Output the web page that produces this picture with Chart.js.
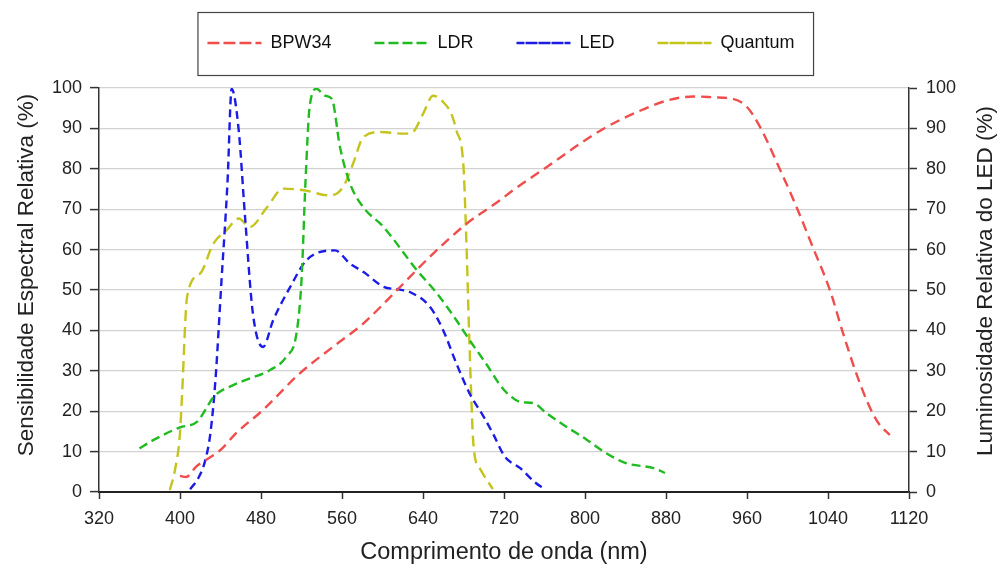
<!DOCTYPE html>
<html>
<head>
<meta charset="utf-8">
<script src="https://cdn.jsdelivr.net/npm/chart.js@4.4.1/dist/chart.umd.min.js"></script>
<style>
  html, body { margin: 0; padding: 0; background: #fff; }
  #wrap { width: 1002px; height: 570px; }
</style>
</head>
<body>
<div id="wrap"><canvas id="chart" width="1002" height="570"></canvas></div>
<script>
// BPW34 - sensibilidade espectral (eixo esquerdo)
const bpwNm  = [400, 406, 416, 426, 440, 456, 482, 518, 551, 581, 614, 650, 683, 716, 729, 762, 795, 821, 851, 881, 907, 927, 946, 960, 973, 993, 1009, 1025, 1042, 1055, 1068, 1081, 1090, 1101];
const bpwVal = [4, 3.7, 6.3, 8, 10.4, 14.7, 20.3, 29.3, 35.9, 41.7, 49.9, 59, 66.4, 72.2, 74.7, 80.4, 86.2, 90.3, 94, 96.9, 97.9, 97.7, 97.3, 95.3, 90.3, 79.6, 70.5, 60.6, 49.9, 39.2, 29.3, 21.1, 17, 14.1];

// LDR
const ldrNm  = [360, 374, 400, 417, 425, 433, 453, 469, 489, 505, 515, 520, 524, 528, 535, 543, 550, 558, 568, 581, 601, 634, 654, 673, 686, 703, 716, 723, 736, 749, 762, 782, 802, 821, 841, 868, 879];
const ldrVal = [10.8, 12.9, 16, 17.4, 20.3, 23.5, 26.5, 28.1, 30.2, 33.5, 39.2, 52.4, 77.1, 95.3, 99.8, 98.1, 97.3, 85.4, 76.3, 70.5, 65.6, 54.9, 49.1, 42.5, 37.6, 31.5, 26.5, 24.5, 22.3, 22, 19.5, 16.1, 12.9, 9.6, 7.1, 5.9, 4.7];

// LED - luminosidade relativa (eixo direito)
const ledNm  = [410, 418, 425, 430, 435, 441, 447, 451, 458, 464, 472, 482, 492, 509, 525, 553, 568, 581, 601, 617, 627, 647, 660, 673, 686, 700, 709, 721, 736, 750, 760];
const ledVal = [0.7, 3.4, 7.9, 14.5, 27.7, 52.4, 77.1, 99.8, 89.5, 68.9, 44.2, 35.9, 42.5, 50.8, 57.4, 59.8, 56.5, 54.5, 50.8, 50.1, 49.5, 45.8, 40, 31.8, 24.4, 18.6, 14.5, 8.7, 5.9, 2.5, 0.7];

// Quantum
const qtmNm  = [390, 395, 400, 402, 407, 420, 433, 446, 458, 469, 486, 502, 522, 548, 561, 571, 581, 598, 621, 630, 640, 650, 660, 668, 673, 680, 683, 686, 690, 696, 709];
const qtmVal = [0.5, 5.4, 14.6, 24, 48.3, 54.1, 61.5, 64.8, 67.7, 65.6, 70.5, 75.1, 74.7, 73.4, 75.5, 81.3, 87.8, 89.1, 88.7, 89.1, 93.6, 98.1, 96.5, 93.6, 89.5, 80.4, 60.6, 35.9, 11.2, 5.9, 0.7];

const seriesNames = ['BPW34', 'LDR', 'LED', 'Quantum'];
const xTicks = [320, 400, 480, 560, 640, 720, 800, 880, 960, 1040, 1120];
const leftTitle = 'Sensibilidade Espectral Relativa (%)';
const rightTitle = 'Luminosidade Relativa do LED (%)';

Chart.defaults.font.family = 'Arial, "Liberation Sans", sans-serif';
Chart.defaults.color = '#222';

const toPoints = (xs, ys) => xs.map((x, i) => ({ x: x, y: ys[i] }));

function makeSet(label, xs, ys, color, dash, axis) {
    return {
        label: label,
        data: toPoints(xs, ys),
        borderColor: color,
        backgroundColor: 'rgba(0,0,0,0)',
        borderWidth: 2.4,
        borderDash: dash,
        pointRadius: 0,
        cubicInterpolationMode: 'monotone',
        fill: false,
        yAxisID: axis
    };
}

// moldura da legenda + titulos verticais (ambos lidos de baixo para cima)
const legendBoxPlugin = {
    id: 'legendBox',
    beforeInit(chart) {
        const fit = chart.legend.fit;
        chart.legend.fit = function () {
            fit.bind(chart.legend)();
            this.height = 97;
        };
    },
    afterDraw(chart) {
        const ctx = chart.ctx;
        const boxes = chart.legend.legendHitBoxes;
        if (boxes && boxes.length) {
            const first = boxes[0];
            const last = boxes[boxes.length - 1];
            const x0 = first.left - 9.5;
            const x1 = last.left + last.width + 19;
            ctx.save();
            ctx.strokeStyle = '#444';
            ctx.lineWidth = 1.2;
            ctx.strokeRect(x0, 12.5, x1 - x0, 63);
            ctx.restore();
        }
        const area = chart.chartArea;
        const midY = (area.top + area.bottom) / 2 - 15;
        ctx.save();
        ctx.fillStyle = '#222';
        ctx.font = '22.5px Arial, "Liberation Sans", sans-serif';
        ctx.textAlign = 'center';
        ctx.textBaseline = 'middle';
        ctx.translate(27, midY);
        ctx.rotate(-Math.PI / 2);
        ctx.fillText(leftTitle, 0, 0);
        ctx.restore();
        ctx.save();
        ctx.fillStyle = '#222';
        ctx.font = '22.5px Arial, "Liberation Sans", sans-serif';
        ctx.textAlign = 'center';
        ctx.textBaseline = 'middle';
        ctx.translate(986, midY + 6);
        ctx.rotate(-Math.PI / 2);
        ctx.fillText(rightTitle, 0, 0);
        ctx.restore();
    }
};

new Chart(document.getElementById('chart'), {
    type: 'line',
    data: {
        datasets: [
            makeSet(seriesNames[0], bpwNm, bpwVal, '#f04d4d', [10, 6], 'y'),
            makeSet(seriesNames[1], ldrNm, ldrVal, '#20bb20', [9, 5], 'y'),
            makeSet(seriesNames[2], ledNm, ledVal, '#1c1ce6', [8, 5], 'y1'),
            makeSet(seriesNames[3], qtmNm, qtmVal, '#c4c41c', [11, 6], 'y')
        ]
    },
    options: {
        responsive: false,
        animation: false,
        layout: { padding: { top: -9, left: 0, right: 0, bottom: 0 } },
        plugins: {
            tooltip: { enabled: false },
            legend: {
                position: 'top',
                labels: {
                    boxWidth: 54,
                    boxHeight: 0,
                    padding: 43,
                    color: '#111',
                    font: { size: 18 }
                }
            }
        },
        scales: {
            x: {
                type: 'linear',
                min: 320,
                max: 1120,
                afterFit(scale) { scale.height = 78; },
                afterBuildTicks(scale) { scale.ticks = xTicks.map(v => ({ value: v })); },
                ticks: { padding: 9, font: { size: 18 }, color: '#222', maxRotation: 0, callback: v => String(v) },
                grid: { drawOnChartArea: false, drawTicks: true, tickLength: 7, tickColor: '#333', tickWidth: 1.5 },
                border: { display: true, color: '#222', width: 2 },
                title: { display: true, text: 'Comprimento de onda (nm)', font: { size: 23.5 }, color: '#222', padding: { top: 3, bottom: 3 } }
            },
            y: {
                position: 'left',
                min: 0,
                max: 100,
                afterFit(scale) { scale.width = 99; },
                ticks: { stepSize: 10, padding: 8, font: { size: 18 }, color: '#222' },
                grid: { color: '#d2d2d2', lineWidth: 1.2, tickColor: '#333', tickLength: 9, tickWidth: 1.5 },
                border: { display: true, color: '#333', width: 1.5 }
            },
            y1: {
                position: 'right',
                min: 0,
                max: 100,
                afterFit(scale) { scale.width = 93; },
                ticks: { stepSize: 10, padding: 9, font: { size: 18 }, color: '#222' },
                grid: { drawOnChartArea: false, tickColor: '#333', tickLength: 8, tickWidth: 1.5 },
                border: { display: true, color: '#333', width: 1.5 }
            }
        }
    },
    plugins: [legendBoxPlugin]
});
</script>
</body>
</html>
